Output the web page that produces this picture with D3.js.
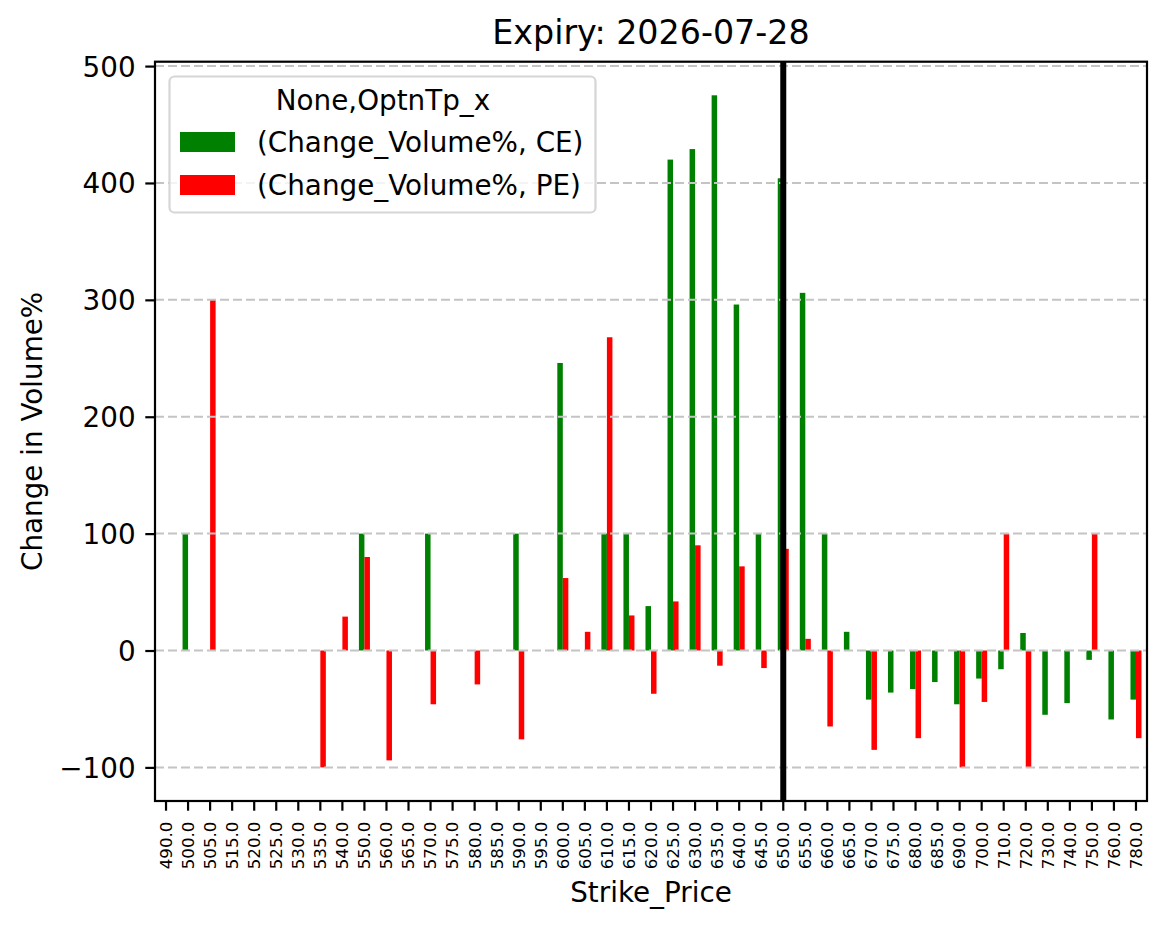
<!DOCTYPE html>
<html>
<head>
<meta charset="utf-8">
<script src="https://cdn.jsdelivr.net/npm/d3@7"></script>
<style>
  html, body { margin: 0; padding: 0; background: #fff; }
  svg { display: block; font-family: "DejaVu Sans", sans-serif; }
</style>
</head>
<body>
<svg id="chart" width="1166" height="928"></svg>
<script>
const strikes = [490,500,505,515,520,525,530,535,540,550,560,565,570,575,580,585,590,595,600,605,610,615,620,625,630,635,640,645,650,655,660,665,670,675,680,685,690,700,710,720,730,740,750,760,780];
const ceValues = [null,100,null,null,null,null,null,null,null,100,null,null,100,null,null,null,100,null,246,null,100,100,38,420,429,475,296,100,404,306,100,16,-42,-36,-33,-27,-46,-24,-16,15,-55,-45,-8,-59,-42];
const peValues = [null,null,300,null,null,null,null,-100,29,80,-94,null,-46,null,-29,null,-76,null,62,16,268,30,-37,42,90,-13,72,-15,87,10,-65,null,-85,null,-75,null,-100,-44,100,-100,null,null,100,null,-75];
const yTicks = [-100,0,100,200,300,400,500];
const seriesNames = ["(Change_Volume%, CE)", "(Change_Volume%, PE)"];
const seriesColors = ["#008000", "#ff0000"];
const spotStrike = 650;
const titleText = "Expiry: 2026-07-28";
const legendTitle = "None,OptnTp_x";
const xLabel = "Strike_Price";
const yLabel = "Change in Volume%";

const svg = d3.select("#chart");
const L = 155, R = 1147, T = 61.7, B = 801;

const x = d3.scaleBand().domain(strikes).range([L, R]).padding(0);
const y = d3.scaleLinear().domain([-128.75, 503.75]).range([B, T]);
const bw = x.bandwidth();
const barW = bw * 0.25;

// bars
const series = [ceValues, peValues];
series.forEach((vals, si) => {
  svg.append("g").selectAll("rect")
    .data(strikes.map((s, i) => ({s, v: vals[i]})).filter(d => d.v !== null))
    .enter().append("rect")
    .attr("x", d => x(d.s) + bw / 2 + (si === 0 ? -barW : 0))
    .attr("width", barW)
    .attr("y", d => y(Math.max(0, d.v)))
    .attr("height", d => Math.abs(y(d.v) - y(0)))
    .attr("fill", seriesColors[si]);
});

// grid (above bars, as matplotlib)
svg.append("g").selectAll("line").data(yTicks).enter().append("line")
  .attr("x1", L).attr("x2", R)
  .attr("y1", d => y(d)).attr("y2", d => y(d))
  .attr("stroke", "#c4c4c4").attr("stroke-width", 2)
  .attr("stroke-dasharray", "9,4");

// spot vertical line
svg.append("line")
  .attr("x1", x(spotStrike) + bw / 2).attr("x2", x(spotStrike) + bw / 2)
  .attr("y1", T).attr("y2", B)
  .attr("stroke", "#000").attr("stroke-width", 6);

// axes
const yAxis = d3.axisLeft(y).tickValues(yTicks).tickSize(9.7).tickPadding(9.7)
  .tickFormat(d => d < 0 ? "\u2212" + Math.abs(d) : String(d));
const gy = svg.append("g").attr("transform", `translate(${L},0)`).call(yAxis);
gy.select(".domain").remove();
gy.selectAll("line").attr("stroke", "#000").attr("stroke-width", 2.2);
gy.selectAll("text").attr("font-size", "27.8px").attr("fill", "#000")
  .attr("font-family", "DejaVu Sans").attr("dy", "0.36em");

const xAxis = d3.axisBottom(x).tickSize(9.7).tickPadding(0).tickFormat(d => d.toFixed(1));
const gx = svg.append("g").attr("transform", `translate(0,${B})`).call(xAxis);
gx.select(".domain").remove();
gx.selectAll("line").attr("stroke", "#000").attr("stroke-width", 2.2);
gx.selectAll("text")
  .attr("font-size", "16.7px").attr("fill", "#000").attr("font-family", "DejaVu Sans")
  .attr("text-anchor", "end").attr("dy", "0.35em")
  .attr("transform", "translate(0,20.5) rotate(-90)")
  .attr("x", 0).attr("y", 0);

// spines
svg.append("rect").attr("x", L).attr("y", T).attr("width", R - L).attr("height", B - T)
  .attr("fill", "none").attr("stroke", "#000").attr("stroke-width", 2.2);

// title & labels
svg.append("text").attr("x", (L + R) / 2).attr("y", 44).attr("text-anchor", "middle")
  .attr("font-size", "33.3px").attr("fill", "#000").text(titleText);
svg.append("text").attr("x", (L + R) / 2).attr("y", 902).attr("text-anchor", "middle")
  .attr("font-size", "27.8px").attr("fill", "#000").text(xLabel);
svg.append("text").attr("transform", `translate(42,${(T + B) / 2}) rotate(-90)`)
  .attr("text-anchor", "middle").attr("font-size", "27.8px").attr("fill", "#000").text(yLabel);

// legend
const lg = svg.append("g");
lg.append("rect").attr("x", 169.5).attr("y", 76.5).attr("width", 426).attr("height", 136)
  .attr("rx", 5).attr("fill", "#fff").attr("fill-opacity", 0.8)
  .attr("stroke", "#d6d6d6").attr("stroke-width", 2.2);
lg.append("text").attr("x", 383).attr("y", 110).attr("text-anchor", "middle")
  .attr("font-size", "27.8px").attr("fill", "#000").text(legendTitle);
seriesNames.forEach((name, i) => {
  const yy = 132 + i * 43;
  lg.append("rect").attr("x", 180).attr("y", yy).attr("width", 55).attr("height", 20)
    .attr("fill", seriesColors[i]);
  lg.append("text").attr("x", 257).attr("y", yy + 20).attr("font-size", "27.8px")
    .attr("fill", "#000").text(name);
});
</script>
</body>
</html>
